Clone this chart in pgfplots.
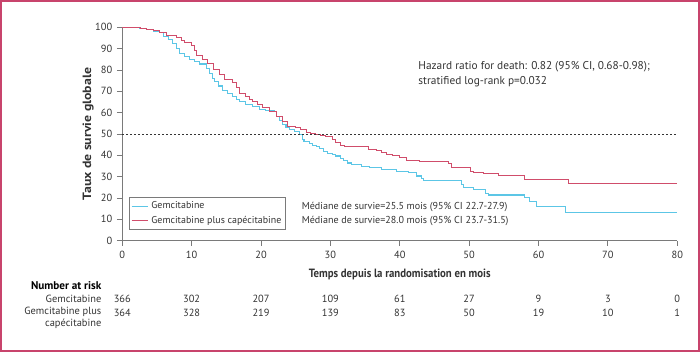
\documentclass[border=0pt]{standalone}
\usepackage{pgfplots}
\pgfplotsset{compat=1.18}
\usepackage{fontspec}
\setmainfont{PT Sans}
\newfontfamily\widefont[FakeStretch=1.15]{PT Sans}
\newfontfamily\condfont[FakeStretch=0.9]{PT Sans}
\definecolor{gemblue}{HTML}{5CC6E6}
\definecolor{capred}{HTML}{D04D6B}
\definecolor{framecol}{HTML}{C8446C}
\definecolor{axgray}{HTML}{7A7A7A}
\definecolor{txt}{HTML}{333333}
\newcommand{\smallf}{\fontsize{7.8pt}{9pt}\selectfont}
\newcommand{\hazf}{\fontsize{8.5pt}{10pt}\selectfont}
\newcommand{\medf}{\fontsize{7.55pt}{9pt}\selectfont}
\newcommand{\legf}{\fontsize{7.45pt}{9pt}\selectfont}
\newcommand{\bigf}{\condfont\fontsize{9pt}{10pt}\selectfont\bfseries}
\newcommand{\risk}[3]{%
  \node[font=\smallf, text=txt, inner sep=0pt] at ([yshift=-43.7pt]axis cs:#1,0) {#2};
  \node[font=\smallf, text=txt, inner sep=0pt] at ([yshift=-54pt]axis cs:#1,0) {#3};}
\begin{document}
\begin{tikzpicture}
\path[use as bounding box] (-91.7pt,-83.5pt) rectangle (433.3pt,180.5pt);
\draw[framecol, line width=1.2pt] (-91.1pt,-82.9pt) rectangle (432.7pt,179.9pt);
\begin{axis}[
  at={(0,0)}, anchor=south west,
  scale only axis, width=416.25pt, height=160pt,
  xmin=0, xmax=80, ymin=0, ymax=100,
  axis x line=bottom, axis y line=left,
  axis line style={axgray, line width=0.6pt, -},
  xtick={0,10,...,80}, ytick={0,10,...,100},
  tick align=outside, major tick length=4pt,
  tick style={axgray, line width=0.6pt},
  ticklabel style={font=\smallf, text=txt},
  /pgf/number format/assume math mode=true,
  clip=false,
  xlabel={Temps depuis la randomisation en mois},
  xlabel style={font=\bigf, text=txt, at={(axis description cs:0.5,0)}, anchor=center, yshift=-25pt},
  ylabel={Taux de survie globale},
  ylabel style={font=\widefont\fontsize{9pt}{10pt}\selectfont\bfseries, text=txt, at={(axis description cs:-0.0617,0.5)}, anchor=center},
  legend style={at={(axis cs:0.98,20.5)}, anchor=north west, draw=axgray, line width=0.5pt,
    font=\legf, text=txt, inner sep=1.2pt, row sep=0.3pt, cells={anchor=west}},
  legend image code/.code={\draw[#1] (0pt,0pt) -- (12.5pt,0pt);},
]
\addplot[gemblue, line width=0.8pt, const plot] coordinates {
(0,100) (2.5,99.6) (3.5,99) (4.5,98) (5.4,97.5) (5.9,95.6) (6.6,94.5) (7.3,92.5) (7.8,90) (8.3,87.8)
(9.0,86.5) (9.7,85) (10.4,84) (11.1,82.8) (12.1,80.8) (12.6,78.5) (13.0,76) (13.3,74.5) (13.9,72.5)
(14.5,70.6) (15.2,69) (15.9,67.5) (16.4,66.2) (16.9,65.2) (17.8,64) (18.8,62.8) (19.8,61.3) (20.7,60.8)
(22.0,60.5) (22.2,58) (22.6,56.5) (23.1,54.5) (23.6,53) (24.1,52) (24.8,51) (25.5,49.8) (26.0,47.5)
(26.2,46.4) (27.0,45.5) (27.4,44.8) (28.0,44) (28.4,43.3) (29.0,42) (29.6,41) (30.3,40.2) (30.8,39.7)
(31.4,38.6) (31.9,37.6) (32.4,36.4) (33.1,35.6) (34.5,34.8) (35.7,34.1) (37.4,33.3) (39.5,32.6)
(41.2,31.8) (42.4,30.3) (43.1,29.0) (43.4,28.4) (47.7,28.0) (48.9,26.4) (49.2,24.9) (50.6,24.1)
(52.3,22.2) (52.8,21.4) (58.0,20.3) (58.7,18.3) (59.7,15.9) (63.9,13.4) (80,13.4)
};
\addlegendentry{Gemcitabine}
\addplot[capred, line width=0.75pt, const plot] coordinates {
(0,100) (2.7,99.6) (3.5,99.2) (4.5,98.5) (5.4,97.7) (6.4,96.4) (7.0,96) (7.8,95.3) (8.5,94) (9.0,92.8)
(10.0,91.7) (10.4,89) (10.7,87) (11.6,85) (12.3,83) (13.1,80.3) (14.0,78.1) (14.7,75.6) (15.9,74)
(16.4,72) (16.9,69.1) (17.8,67.5) (18.3,66.3) (18.8,65.2) (19.5,63.8) (20.2,62.5) (21.2,60.5)
(22.2,58.1) (23.1,55.8) (23.8,53.4) (25.0,53.1) (25.7,51.9) (26.5,50.6) (27.1,50.2) (27.9,49.8)
(28.6,49.2) (29.3,48.8) (30.3,47.2) (30.8,46) (31.4,44.8) (32.1,44.0) (35.5,42.8) (36.7,42.1)
(37.4,41.5) (38.1,40.6) (39.0,39.8) (40.0,39.2) (41.0,37.6) (42.9,36.9) (47.0,36.0) (47.5,34.1)
(50.2,32.6) (50.7,31.8) (52,31.4) (54.2,30.5) (58.0,28.9) (64.3,26.8) (80,26.8)
};
\addlegendentry{Gemcitabine plus capécitabine}
\addplot[txt, line width=0.5pt, dash pattern=on 1.6pt off 1.4pt, forget plot] coordinates {(0,50) (80,50)};
\node[anchor=west, font=\hazf, text=txt, inner sep=0pt] at (axis cs:42.65,81.5) {Hazard ratio for death: 0.82 (95\% CI, 0.68-0.98);};
\node[anchor=west, font=\hazf, text=txt, inner sep=0pt] at (axis cs:42.65,74.3) {stratified log-rank p=0.032};
\node[anchor=west, font=\medf, text=txt, inner sep=0pt] at (axis cs:25.85,15.9) {Médiane de survie=25.5 mois (95\% CI 22.7-27.9)};
\node[anchor=west, font=\medf, text=txt, inner sep=0pt] at (axis cs:25.85,9.4) {Médiane de survie=28.0 mois (95\% CI 23.7-31.5)};
\node[anchor=east, font=\fontsize{8.4pt}{10pt}\selectfont\bfseries, text=black, inner sep=0pt] at ([xshift=-15.5pt,yshift=-34pt]axis cs:0,0) {Number at risk};
\node[anchor=east, font=\smallf, text=txt, inner sep=0pt] at ([xshift=-15.5pt,yshift=-43.7pt]axis cs:0,0) {Gemcitabine};
\node[anchor=east, font=\smallf, text=txt, inner sep=0pt] at ([xshift=-15.5pt,yshift=-53.5pt]axis cs:0,0) {Gemcitabine plus};
\node[anchor=east, font=\smallf, text=txt, inner sep=0pt] at ([xshift=-15.5pt,yshift=-62.7pt]axis cs:0,0) {capécitabine};
\risk{0}{366}{364}
\risk{10}{302}{328}
\risk{20}{207}{219}
\risk{30}{109}{139}
\risk{40}{61}{83}
\risk{50}{27}{50}
\risk{60}{9}{19}
\risk{70}{3}{10}
\risk{80}{0}{1}
\end{axis}
\end{tikzpicture}
\end{document}
